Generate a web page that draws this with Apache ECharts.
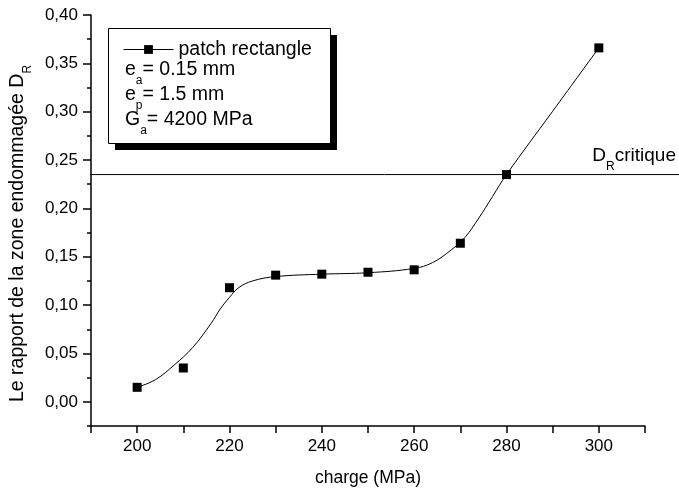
<!DOCTYPE html>
<html><head><meta charset="utf-8">
<script src="https://cdn.jsdelivr.net/npm/echarts@6/dist/echarts.min.js"></script>
<style>html,body{margin:0;padding:0;background:#fff}#c{width:679px;height:492px}</style>
</head><body><div id="c"></div>
<script>
// measured points
const charges = [200, 210, 220, 230, 240, 250, 260, 270, 280, 300];
const ratios = [0.015, 0.035, 0.118, 0.131, 0.132, 0.134, 0.1365, 0.164, 0.235, 0.366];
// fitted curve
const fitCharges = [200, 204, 208, 212, 216, 218, 220, 222, 225, 230, 240, 250, 260, 264, 268, 271, 274, 277, 280, 290, 300];
const fitRatios = [0.015, 0.023, 0.038, 0.056, 0.081, 0.096, 0.108, 0.118, 0.125, 0.1295, 0.132, 0.1335, 0.138, 0.144, 0.157, 0.170, 0.190, 0.2125, 0.235, 0.3005, 0.366];
const dCritical = 0.235;
const xLabelValues = [200, 220, 240, 260, 280, 300];
const yMajorTicks = [0, 0.05, 0.10, 0.15, 0.20, 0.25, 0.30, 0.35, 0.40];
const yMinorTicks = [-0.025, 0.025, 0.075, 0.125, 0.175, 0.225, 0.275, 0.325, 0.375];

const FONT = '"Liberation Sans", Arial, sans-serif';
const fmt = v => v.toFixed(2).replace('.', ',');
const chart = echarts.init(document.getElementById('c'), null, {renderer: 'canvas'});
const subRich = (fs, pad) => ({
  m: {fontSize: fs, lineHeight: 22, verticalAlign: 'top', fontFamily: FONT, color: '#000'},
  s: {fontSize: 12, lineHeight: 12, verticalAlign: 'top', padding: [pad, 0, 0, 0], fontFamily: FONT, color: '#000'}
});
const fitData = fitCharges.map((c, i) => [c, fitRatios[i]]);
const ptData = charges.map((c, i) => [c, ratios[i]]);

const option = {
  animation: false,
  backgroundColor: '#fff',
  textStyle: {fontFamily: FONT, color: '#000'},
  grid: [
    {left: 90, right: 34, top: 15, bottom: 66},
    {left: 90, right: 0, top: 15, bottom: 66}
  ],
  xAxis: [{
    type: 'value', gridIndex: 0, min: 190, max: 310, interval: 10,
    axisLine: {show: true, onZero: false, lineStyle: {color: '#000', width: 1.5}},
    axisTick: {show: true, length: 7, lineStyle: {color: '#000', width: 1.5}},
    axisLabel: {customValues: xLabelValues, margin: 12, fontSize: 17, color: '#000', fontFamily: FONT},
    splitLine: {show: false},
    name: 'charge (MPa)', nameLocation: 'middle', nameGap: 43,
    nameTextStyle: {fontSize: 17.5, color: '#000', fontFamily: FONT}
  }, {
    type: 'value', gridIndex: 1, min: 0, max: 1, show: false
  }],
  yAxis: [{
    type: 'value', gridIndex: 0, position: 'left', min: -0.025, max: 0.4, interval: 0.025,
    axisLine: {show: true, onZero: false, lineStyle: {color: '#000', width: 1.5}},
    axisTick: {show: true, customValues: yMajorTicks, length: 8, lineStyle: {color: '#000', width: 1.5}},
    axisLabel: {customValues: yMajorTicks, formatter: fmt, margin: 13, fontSize: 17, color: '#000', fontFamily: FONT},
    splitLine: {show: false},
    name: '{m|Le rapport de la zone endommagée D}{s|R}', nameLocation: 'middle', nameGap: 43, nameRotate: 90,
    nameTextStyle: {padding: [0, 26, 0, 0], rich: subRich(19.5, 14)}
  }, {
    type: 'value', gridIndex: 0, position: 'left', min: -0.025, max: 0.4, interval: 0.025,
    axisLine: {show: false},
    axisTick: {show: true, customValues: yMinorTicks, length: 4, lineStyle: {color: '#000', width: 1.5}},
    axisLabel: {show: false},
    splitLine: {show: false}
  }, {
    type: 'value', gridIndex: 1, min: -0.025, max: 0.4, show: false
  }],
  legend: {
    data: ['patch rectangle'], left: 123, top: 39.5, padding: 0, itemWidth: 50, itemHeight: 11,
    selectedMode: false, z: 6,
    textStyle: {fontSize: 19.5, color: '#000', fontFamily: FONT},
    itemStyle: {color: '#000'}, lineStyle: {color: '#000', width: 1}
  },
  series: [{
    name: 'patch rectangle', type: 'line', xAxisIndex: 0, yAxisIndex: 0,
    data: fitData, smooth: 0.4, symbol: 'rect', symbolSize: 9, showSymbol: false,
    lineStyle: {color: '#000', width: 1}, itemStyle: {color: '#000'}, z: 3
  }, {
    name: 'points', type: 'scatter', xAxisIndex: 0, yAxisIndex: 0,
    data: ptData, symbol: 'rect', symbolSize: 9, itemStyle: {color: '#000', opacity: 1}, z: 4
  }, {
    name: 'critique', type: 'line', xAxisIndex: 1, yAxisIndex: 2,
    data: [[0, dCritical], [1, dCritical]], symbol: 'none',
    lineStyle: {color: '#000', width: 1}, z: 2
  }],
  graphic: [
    {type: 'rect', left: 115, top: 35, z: 1, shape: {width: 222, height: 115}, style: {fill: '#000'}},
    {type: 'rect', left: 108, top: 28, z: 1, shape: {width: 222, height: 115}, style: {fill: '#fff', stroke: '#000', lineWidth: 1}},
    {type: 'text', left: 125, top: 59.5, z: 6, style: {text: '{m|e}{s|a}{m|= 0.15 mm}', rich: subRich(19.5, 15)}},
    {type: 'text', left: 125, top: 85, z: 6, style: {text: '{m|e}{s|p}{m|= 1.5 mm}', rich: subRich(19.5, 15)}},
    {type: 'text', left: 125, top: 110, z: 6, style: {text: '{m|G}{s|a}{m|= 4200 MPa}', rich: subRich(19.5, 15)}},
    {type: 'text', right: 3, top: 146.5, z: 6, style: {text: '{m|D}{s|R}{m|critique}', rich: subRich(19, 14)}}
  ]
};
chart.setOption(option);
</script></body></html>
